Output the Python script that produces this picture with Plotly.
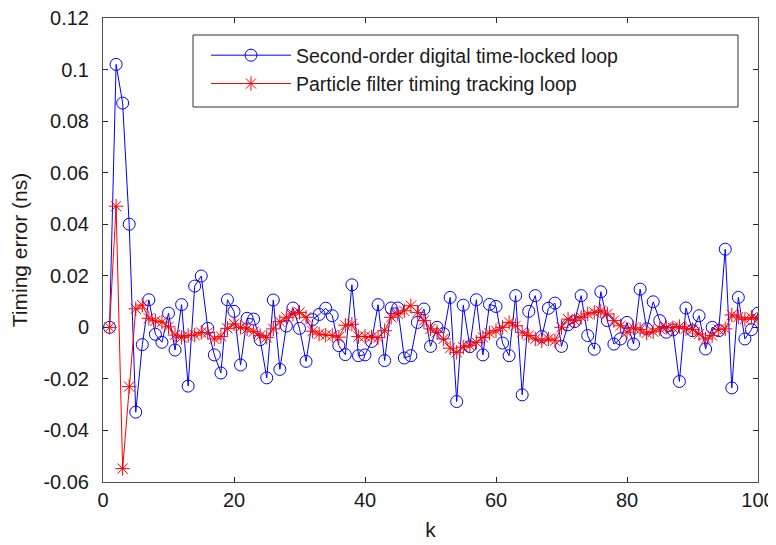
import plotly.graph_objects as go

k = list(range(1, 101))

dtll = [
    0.0, 0.102, 0.087, 0.040, -0.0329, -0.0067, 0.0107, -0.0027, -0.0058, 0.0055,
    -0.0088, 0.0088, -0.0228, 0.0160, 0.0199, -0.0004, -0.0107, -0.0177, 0.0107, 0.0062,
    -0.0146, 0.0035, 0.0032, -0.0048, -0.0196, 0.0106, -0.0163, 0.0005, 0.0075, -0.0004,
    -0.0132, 0.0030, 0.0050, 0.0074, 0.0045, -0.0071, -0.0106, 0.0165, -0.0110, -0.0107,
    -0.0055, 0.0088, -0.0129, 0.0075, 0.0075, -0.0119, -0.0110, 0.0019, 0.0071, -0.0074,
    0.0000, -0.0025, 0.0116, -0.0288, 0.0086, -0.0075, 0.0107, -0.0107, 0.0089, 0.0081,
    -0.0061, -0.0110, 0.0123, -0.0262, 0.0062, 0.0123, -0.0036, 0.0074, 0.0094, -0.0074,
    0.0010, 0.0022, 0.0123, -0.0032, -0.0085, 0.0138, 0.0026, -0.0065, -0.0045, 0.0019,
    -0.0065, 0.0148, -0.0006, 0.0099, 0.0026, -0.0019, -0.0010, -0.0210, 0.0075, -0.0013,
    0.0045, -0.0084, 0.0000, -0.0013, 0.0303, -0.0235, 0.0116, -0.0045, -0.0009, 0.0055,
]

pf = [
    0.0, 0.047, -0.0548, -0.0230, 0.0072, 0.0086, 0.0035, 0.0025, 0.0020, 0.0002,
    -0.0030, -0.0039, -0.0032, -0.0030, -0.0020, -0.0020, -0.0045, -0.0035, -0.0004, 0.0013,
    0.0000, -0.0006, -0.0017, -0.0032, -0.0039, -0.0006, 0.0022, 0.0039, 0.0052, 0.0058,
    0.0039, -0.0015, -0.0026, -0.0030, -0.0032, -0.0038, 0.0008, 0.0012, -0.0036, -0.0035,
    -0.0038, -0.0040, -0.0013, 0.0039, 0.0052, 0.0064, 0.0084, 0.0058, 0.0026, -0.0006,
    -0.0019, -0.0045, -0.0081, -0.0097, -0.0077, -0.0071, -0.0058, -0.0039, -0.0022, -0.0013,
    0.0000, 0.0019, 0.0006, -0.0019, -0.0032, -0.0045, -0.0052, -0.0045, -0.0052, 0.0000,
    0.0032, 0.0026, 0.0039, 0.0052, 0.0058, 0.0064, 0.0052, 0.0026, 0.0006, -0.0019,
    -0.0002, -0.0009, -0.0022, -0.0017, -0.0006, 0.0000, -0.0002, 0.0003, -0.0005, -0.0009,
    -0.0026, -0.0045, -0.0032, -0.0009, -0.0006, 0.0048, 0.0040, 0.0031, 0.0038, 0.0032,
]

names = ["Second-order digital time-locked loop", "Particle filter timing tracking loop"]

x_ticks = [0, 20, 40, 60, 80, 100]
y_ticks = [-0.06, -0.04, -0.02, 0, 0.02, 0.04, 0.06, 0.08, 0.1, 0.12]
y_tick_text = ["-0.06", "-0.04", "-0.02", "0", "0.02", "0.04", "0.06", "0.08", "0.1", "0.12"]

FONT = "Liberation Sans, Arial, sans-serif"
TXT = "#1a1a1a"

# page body has an 8px margin, so the figure is offset by (8, 8)
FIG_W, FIG_H = 768, 537
M_L, M_R, M_T, M_B = 95, 18, 10, 63
PLOT_W = FIG_W - M_L - M_R
PLOT_H = FIG_H - M_T - M_B
SCR_LEFT = 8 + M_L          # plot left edge on screen
SCR_BOTTOM = 8 + M_T + PLOT_H  # plot bottom edge on screen


def px(xs):
    return (xs - SCR_LEFT) / PLOT_W


def py(ys):
    return (SCR_BOTTOM - ys) / PLOT_H


fig = go.Figure()
fig.add_trace(go.Scatter(
    x=k, y=dtll, name=names[0], mode="lines+markers",
    line=dict(color="#0000FF", width=1),
    marker=dict(symbol="circle-open", size=12, color="#0000FF", line=dict(width=1)),
))
fig.add_trace(go.Scatter(
    x=k, y=pf, name=names[1], mode="lines+markers",
    line=dict(color="#FF0000", width=1),
    marker=dict(symbol="asterisk-open", size=12, color="#FF0000", line=dict(width=1, color="#FF0000")),
))

axis_common = dict(
    showline=True, linecolor="#4d4d4d", linewidth=1, mirror="ticks",
    ticks="inside", ticklen=5, tickcolor="#262626", tickwidth=1,
    showgrid=False, zeroline=False, automargin=False, ticklabeloverflow="allow",
    tickfont=dict(family=FONT, size=20, color=TXT),
    title_font=dict(family=FONT, size=21, color=TXT),
)

fig.update_xaxes(range=[0, 100], tickvals=x_ticks, ticktext=[str(v) for v in x_ticks],
                 title_text="k", title_standoff=12, **axis_common)
fig.update_yaxes(range=[-0.06, 0.12], tickvals=y_ticks, ticktext=y_tick_text,
                 title_text="Timing error (ns)", title_standoff=14, ticklabelstandoff=9,
                 **axis_common)

# legend frame
fig.add_shape(type="rect", xref="paper", yref="paper",
              x0=px(193), x1=px(738), y0=py(107), y1=py(35),
              line=dict(color="#333333", width=1), fillcolor="white", layer="below")

fig.update_layout(
    width=FIG_W, height=FIG_H,
    margin=dict(l=M_L, r=M_R, t=M_T, b=M_B, autoexpand=False),
    paper_bgcolor="white", plot_bgcolor="white",
    font=dict(family=FONT, size=19, color=TXT),
    legend=dict(x=px(206), y=py(36), xanchor="left", yanchor="top",
                bgcolor="rgba(0,0,0,0)", borderwidth=0, itemwidth=80,
                font=dict(family=FONT, size=19.5, color=TXT), tracegroupgap=0),
    showlegend=True,
)

fig.write_html("out.html")
